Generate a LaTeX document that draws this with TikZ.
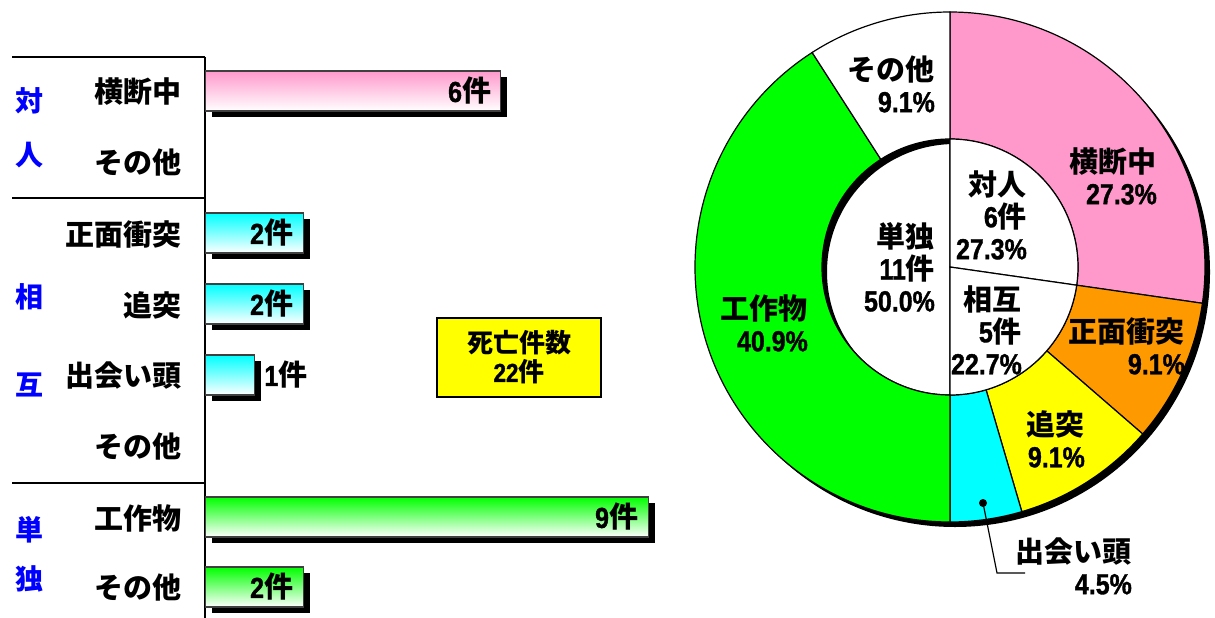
\documentclass[tikz,border=0pt]{standalone}
\usepackage{fontspec}
\setmainfont{Noto Sans CJK JP}
\newfontfamily\latn{Liberation Sans}[UprightFont=* Bold, BoldFont=* Bold, FakeStretch=0.86, FakeBold=1.2]
\usetikzlibrary{positioning, shadows}
\definecolor{piepink}{RGB}{255,153,204}
\definecolor{pieorange}{RGB}{255,153,0}
\definecolor{pieyellow}{RGB}{255,255,0}
\definecolor{piecyan}{RGB}{0,255,255}
\definecolor{piegreen}{RGB}{0,255,0}
\definecolor{catblue}{RGB}{0,0,255}
\tikzstyle{cat_label} = [text=catblue, inner sep=0pt, font=\fontsize{28}{30}\selectfont\bfseries]
\tikzstyle{row_label} = [anchor=east, inner sep=0pt, font=\fontsize{29}{32}\selectfont\bfseries]
\tikzstyle{axis_line} = [line width=1.6pt]
\tikzstyle{bar_box} = [rectangle, anchor=west, draw=black!75, line width=1.2pt, minimum height=40pt, inner sep=0pt, bottom color=white, drop shadow={fill=black, opacity=1, shadow xshift=6pt, shadow yshift=-6pt}]
\tikzstyle{value_label} = [inner sep=0pt, font=\fontsize{29}{32}\selectfont\bfseries]
\tikzstyle{total_box} = [rectangle, draw=black, line width=1.2pt, fill=pieyellow, minimum width=164pt, minimum height=79pt, align=center, font=\fontsize{26}{29}\selectfont\bfseries]
\tikzstyle{slice} = [draw=black, line width=1.2pt]
\tikzstyle{pie_label} = [anchor=east, align=right, inner sep=0pt, font=\fontsize{29}{32}\selectfont\bfseries]

\begin{document}
\begin{tikzpicture}[x=1pt, y=-1pt]
\useasboundingbox (0,0) rectangle (1215,618);

% Achsen und Trennlinien
\draw [axis_line] (12,57) -- (205,57);
\draw [axis_line] (205,57) -- (205,618);
\draw [axis_line] (12,198) -- (205,198);
\draw [axis_line] (12,483) -- (205,483);

% Kategorien
\node (cat_tai) [cat_label] at (30,101) {対};
\node (cat_jin) [cat_label] at (30,155) {人};
\node (cat_sou) [cat_label] at (30,297) {相};
\node (cat_go) [cat_label] at (30,385) {互};
\node (cat_tan) [cat_label] at (30,530) {単};
\node (cat_doku) [cat_label] at (30,579) {独};

% Unterkategorien
\node (row_oudan) [row_label] at (182,92) {横断中};
\node (row_taijin_etc) [row_label] at (182,163) {その他};
\node (row_shoumen) [row_label] at (182,234) {正面衝突};
\node (row_tsuitotsu) [row_label] at (182,305) {追突};
\node (row_deai) [row_label] at (182,376) {出会い頭};
\node (row_sougo_etc) [row_label] at (182,447) {その他};
\node (row_kousaku) [row_label] at (182,518) {工作物};
\node (row_tandoku_etc) [row_label] at (182,588) {その他};

% Balken
\node (bar_oudan) [bar_box, top color=piepink, minimum width=295pt] at (205,91) {};
\node (bar_shoumen) [bar_box, top color=piecyan, minimum width=98pt] at (205,233) {};
\node (bar_tsuitotsu) [bar_box, top color=piecyan, minimum width=98pt] at (205,304) {};
\node (bar_deai) [bar_box, top color=piecyan, minimum width=49pt] at (205,375) {};
\node (bar_kousaku) [bar_box, top color=piegreen, minimum width=443pt] at (205,517) {};
\node (bar_tandoku_etc) [bar_box, top color=piegreen, minimum width=98pt] at (205,587) {};

\node (val_oudan) [value_label, left=10pt of bar_oudan.east] {{\latn 6}件};
\node (val_shoumen) [value_label, left=11pt of bar_shoumen.east] {{\latn 2}件};
\node (val_tsuitotsu) [value_label, left=11pt of bar_tsuitotsu.east] {{\latn 2}件};
\node (val_deai) [value_label, right=9pt of bar_deai.east] {{\latn 1}件};
\node (val_kousaku) [value_label, left=11pt of bar_kousaku.east] {{\latn 9}件};
\node (val_tandoku_etc) [value_label, left=11pt of bar_tandoku_etc.east] {{\latn 2}件};

\node (total) [total_box] at (519,357.5) {死亡件数\\{\latn 22}件};

% Kreisdiagramm
\begin{scope}[shift={(950,267)}]
\coordinate (pie_c) at (0,0);
\filldraw [slice, fill=white] (pie_c) -- (90:128) arc[start angle=90, end angle=270, radius=128] -- cycle;
\fill [black, even odd rule] (5,5) circle[radius=255] (5,5) circle[radius=128];
\filldraw [slice, fill=piepink] (-90:128) -- (-90:255) arc[start angle=-90, end angle=8.18, radius=255] -- (8.18:128) arc[start angle=8.18, end angle=-90, radius=128] -- cycle;
\filldraw [slice, fill=pieorange] (8.18:128) -- (8.18:255) arc[start angle=8.18, end angle=40.91, radius=255] -- (40.91:128) arc[start angle=40.91, end angle=8.18, radius=128] -- cycle;
\filldraw [slice, fill=pieyellow] (40.91:128) -- (40.91:255) arc[start angle=40.91, end angle=73.64, radius=255] -- (73.64:128) arc[start angle=73.64, end angle=40.91, radius=128] -- cycle;
\filldraw [slice, fill=piecyan] (73.64:128) -- (73.64:255) arc[start angle=73.64, end angle=90, radius=255] -- (90:128) arc[start angle=90, end angle=73.64, radius=128] -- cycle;
\filldraw [slice, fill=piegreen] (90:128) -- (90:255) arc[start angle=90, end angle=237.27, radius=255] -- (237.27:128) arc[start angle=237.27, end angle=90, radius=128] -- cycle;
\filldraw [slice, fill=white] (237.27:128) -- (237.27:255) arc[start angle=237.27, end angle=270, radius=255] -- (270:128) arc[start angle=270, end angle=237.27, radius=128] -- cycle;
\filldraw [slice, fill=white] (pie_c) -- (-90:128) arc[start angle=-90, end angle=8.18, radius=128] -- cycle;
\filldraw [slice, fill=white] (pie_c) -- (8.18:128) arc[start angle=8.18, end angle=90, radius=128] -- cycle;
\end{scope}

\node (lbl_tandoku_etc) [pie_label] at (935,84) {その他\\{\latn 9.1\%}};
\node (lbl_oudan) [pie_label] at (1157,176) {横断中\\{\latn 27.3\%}};
\node (lbl_taijin) [pie_label] at (1027,215) {対人\\{\latn 6}件\\{\latn 27.3\%}};
\node (lbl_tandoku) [pie_label] at (935,267) {単独\\{\latn 11}件\\{\latn 50.0\%}};
\node (lbl_sougo) [pie_label] at (1022,330) {相互\\{\latn 5}件\\{\latn 22.7\%}};
\node (lbl_kousaku) [pie_label] at (808,323) {工作物\\{\latn 40.9\%}};
\node (lbl_shoumen) [pie_label] at (1185,346) {正面衝突\\{\latn 9.1\%}};
\node (lbl_tsuitotsu) [pie_label] at (1085,439) {追突\\{\latn 9.1\%}};
\node (lbl_deai) [pie_label] at (1132,566) {出会い頭\\{\latn 4.5\%}};

% Fuehrungslinie
\coordinate (deai_pt) at (983,503);
\coordinate (deai_bend) at (997,573);
\coordinate (deai_end) at (1025,573);
\fill (deai_pt) circle[radius=4];
\draw [line width=1.2pt] (deai_pt) -- (deai_bend) -- (deai_end);
\end{tikzpicture}
\end{document}
